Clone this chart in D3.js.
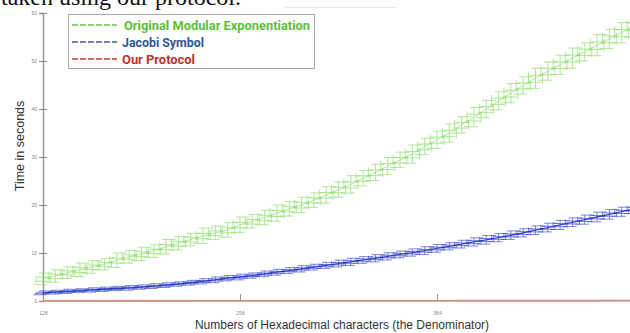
<!DOCTYPE html>
<html>
<head>
<meta charset="utf-8">
<script src="https://cdn.jsdelivr.net/npm/d3@7/dist/d3.min.js"></script>
<style>
  html, body { margin: 0; padding: 0; background: #fff; }
  svg { display: block; }
</style>
</head>
<body>
<svg id="chart" width="630" height="333"></svg>
<script>
// Key length in hexadecimal characters (the denominator)
const hexChars = [128,136,144,152,160,168,176,184,192,200,208,216,224,232,240,248,
  256,264,272,280,288,296,304,312,320,328,336,344,352,360,368,376,
  384,392,400,408,416,424,432,440,448,456,464,472,480,488,496,504,512];

// Mean running time in seconds per method
const modExpTime = [4.6,5.2,5.9,6.5,7.1,7.7,8.5,9.2,9.8,10.4,11.3,12.0,12.8,13.6,14.2,14.8,
  15.9,16.6,17.4,18.3,19.2,20.0,21.0,22.1,23.2,24.3,25.6,26.8,28.1,29.4,30.6,32.2,
  33.6,35.0,36.7,38.3,40.0,41.7,43.3,44.9,46.4,47.9,49.2,50.6,51.9,53.3,54.6,55.9,57.2];
const jacobiTime = [1.7,1.85,2.0,2.15,2.3,2.45,2.6,2.75,2.9,3.1,3.3,3.55,3.8,4.1,4.4,4.75,
  5.0,5.3,5.65,6.0,6.35,6.7,7.05,7.4,7.8,8.15,8.55,8.9,9.3,9.7,10.1,10.5,
  10.95,11.4,11.85,12.3,12.75,13.2,13.7,14.2,14.75,15.3,15.85,16.4,16.95,17.5,18.05,18.6,19.2];
const protocolTime = [0.02,0.02,0.02,0.02,0.02,0.03,0.03,0.03,0.03,0.03,0.03,0.03,0.03,0.04,0.04,0.04,
  0.04,0.04,0.04,0.04,0.05,0.05,0.05,0.05,0.05,0.05,0.05,0.06,0.06,0.06,0.06,0.06,
  0.06,0.06,0.07,0.07,0.07,0.07,0.07,0.07,0.08,0.08,0.08,0.08,0.08,0.08,0.09,0.09,0.09];

// Spread of the repeated measurements (seconds)
const modExpErr = [1.2,1.3,1.2,1.4,1.3,1.2,1.5,1.3,1.4,1.3,1.5,1.4,1.3,1.6,1.4,1.5,
  1.6,1.4,1.5,1.7,1.5,1.6,1.5,1.7,1.6,1.8,1.6,1.7,1.8,1.6,1.9,1.7,
  1.8,1.9,1.7,2.0,1.8,1.9,2.0,1.8,2.1,1.9,2.0,2.1,1.9,2.2,2.0,2.1,2.2];
const jacobiErr = [0.4,0.4,0.45,0.4,0.45,0.45,0.45,0.5,0.45,0.5,0.5,0.45,0.5,0.55,0.6,0.55,
  0.6,0.55,0.6,0.6,0.6,0.65,0.6,0.65,0.7,0.75,0.7,0.75,0.75,0.7,0.75,0.8,
  0.8,0.75,0.8,0.85,0.9,0.85,0.9,0.85,0.9,0.9,0.95,0.9,0.95,1.0,1.0,0.95,1.0];

const xTicks = [128, 256, 384];
const yTicks = [0, 10, 20, 30, 40, 50, 60];

const legendLabels = ["Original Modular Exponentiation", "Jacobi Symbol", "Our Protocol"];

const svg = d3.select("#chart");

const x = d3.scaleLinear().domain([128, 512]).range([43, 634]);
const y = d3.scaleLinear().domain([0, 60]).range([301, 13]);

// Caption text running off the top edge
svg.append("text")
  .attr("x", 1).attr("y", 5)
  .attr("font-family", "Liberation Serif, Times New Roman, serif")
  .attr("font-size", 24)
  .attr("fill", "#111")
  .text("taken using our protocol.");
svg.append("line")
  .attr("x1", 285).attr("x2", 397).attr("y1", 7.5).attr("y2", 7.5)
  .attr("stroke", "#e8e8e8").attr("stroke-width", 1);

// Y axis
const yAxis = d3.axisLeft(y).tickValues(yTicks).tickSize(4).tickPadding(2);
const gy = svg.append("g").attr("transform", "translate(43,0)").call(yAxis);
gy.select(".domain").attr("stroke", "#9a9a9a").attr("stroke-width", 1.5);
gy.selectAll(".tick line").attr("stroke", "#8a8a8a").attr("x2", 4).attr("x1", -4);
gy.selectAll(".tick text").attr("font-size", 5).attr("fill", "#888")
  .attr("font-family", "Liberation Sans, Arial, sans-serif");

// X axis
const xAxis = d3.axisBottom(x).tickValues(xTicks).tickSize(0).tickPadding(10);
const gx = svg.append("g").attr("transform", "translate(0,301)").call(xAxis);
gx.select(".domain").attr("stroke", "#d0d0d0").attr("stroke-width", 1);
gx.selectAll(".tick line").attr("stroke", "#999").attr("y1", 0).attr("y2", -7);
gx.selectAll(".tick text").attr("font-size", 5).attr("fill", "#888")
  .attr("font-family", "Liberation Sans, Arial, sans-serif");

// Axis titles
svg.append("text")
  .attr("transform", "translate(24,146) rotate(-90)")
  .attr("text-anchor", "middle")
  .attr("font-family", "Liberation Sans, Arial, sans-serif")
  .attr("font-size", 12.5).attr("fill", "#333")
  .text("Time in seconds");
svg.append("text")
  .attr("x", 342).attr("y", 329)
  .attr("text-anchor", "middle")
  .attr("font-family", "Liberation Sans, Arial, sans-serif")
  .attr("font-size", 12).attr("fill", "#333")
  .text("Numbers of Hexadecimal characters (the Denominator)");

// Series drawn as error-bar traces
function drawSeries(vals, errs, color, capHalf, lineWidth, lineOpacity, barOpacity) {
  const g = svg.append("g");
  const pts = hexChars.map((n, i) => ({ n, v: vals[i], e: errs ? errs[i] : 0 }));
  g.append("path")
    .datum(pts)
    .attr("fill", "none")
    .attr("stroke", color)
    .attr("stroke-width", lineWidth)
    .attr("opacity", lineOpacity)
    .attr("d", d3.line().x(d => x(d.n)).y(d => y(d.v)));
  if (!errs) return;
  const bars = g.selectAll("g.bar").data(pts).join("g").attr("class", "bar")
    .attr("stroke", color).attr("stroke-width", 0.8).attr("opacity", barOpacity);
  bars.append("line")
    .attr("x1", d => x(d.n)).attr("x2", d => x(d.n))
    .attr("y1", d => y(d.v - d.e)).attr("y2", d => y(d.v + d.e));
  [-1, -0.4, 0.3, 1].forEach((k, j) => {
    bars.append("line")
      .attr("x1", d => x(d.n) - capHalf + j * 2).attr("x2", d => x(d.n) + capHalf - (3 - j) * 2)
      .attr("y1", d => y(d.v + k * d.e)).attr("y2", d => y(d.v + k * d.e));
  });
  [-1, 1].forEach(s => {
    bars.append("line")
      .attr("x1", d => x(d.n) + s * (capHalf - 3)).attr("x2", d => x(d.n) + s * (capHalf - 3))
      .attr("y1", d => y(d.v + d.e * 0.6)).attr("y2", d => y(d.v - d.e * 0.6));
  });
}

drawSeries(modExpTime, modExpErr, "#84dc60", 10, 0.9, 0.7, 0.8);
drawSeries(jacobiTime, jacobiErr, "#2233c2", 10, 1.3, 0.9, 0.75);
drawSeries(protocolTime, null, "#d58c80", 0, 1.6, 1, 1);

// Legend
const lg = svg.append("g");
lg.append("rect")
  .attr("x", 68.5).attr("y", 14.5).attr("width", 246).attr("height", 54)
  .attr("fill", "#fff").attr("stroke", "#a8a8a8").attr("stroke-width", 1);
const lineColors = ["#6cc94a", "#3c5fa0", "#c0392b"];
const textColors = ["#5cbf3a", "#2f5596", "#b8322a"];
const textWidths = [186, 82, 73];
legendLabels.forEach((label, i) => {
  const cy = 25 + i * 17;
  lg.append("line")
    .attr("x1", 72).attr("x2", 117).attr("y1", cy).attr("y2", cy)
    .attr("stroke", lineColors[i]).attr("stroke-width", 1.6)
    .attr("stroke-dasharray", "6,2");
  lg.append("text")
    .attr("x", i === 0 ? 124 : 122).attr("y", cy + 4.5)
    .attr("font-family", "Roboto, Liberation Sans, Arial, sans-serif")
    .attr("font-weight", 700).attr("font-size", 12.5)
    .attr("textLength", textWidths[i]).attr("lengthAdjust", "spacingAndGlyphs")
    .attr("fill", textColors[i])
    .text(label);
});
</script>
</body>
</html>
